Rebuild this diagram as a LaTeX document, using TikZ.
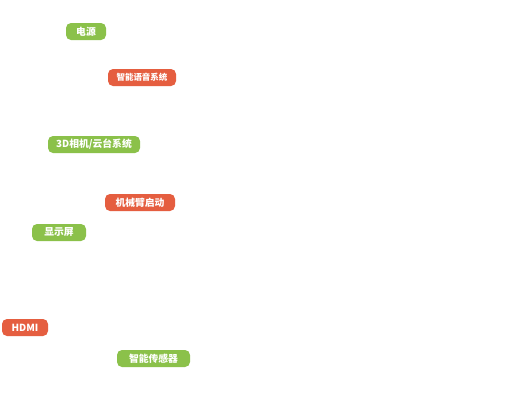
\documentclass[tikz,border=0pt]{standalone}
\usepackage{fontspec}
\newfontfamily\cjk{Noto Sans CJK SC}
\usepackage{tikz}
\usetikzlibrary{positioning}
\definecolor{taggreen}{RGB}{139,193,74}
\definecolor{tagred}{RGB}{229,94,64}
\tikzset{
  tag/.style={rectangle, rounded corners=5pt, minimum height=17pt,
    inner sep=0pt, text=white, font=\cjk\bfseries\fontsize{9.8}{11}\selectfont},
  greentag/.style={tag, fill=taggreen},
  redtag/.style={tag, fill=tagred}
}
\begin{document}
\begin{tikzpicture}[x=1pt, y=-1pt]
  % canvas
  \fill[white] (0,0) rectangle (515,402);
  \useasboundingbox (0,0) rectangle (515,402);

  % labels
  \node[greentag, minimum width=40pt] (power) at (86,31.5) {电源};
  \node[redtag, minimum width=68pt, font=\cjk\bfseries\fontsize{8.5}{10}\selectfont] (voice) at (142,77.5) {智能语音系统};
  \node[greentag, minimum width=92pt] (camera) at (94,144.5) {3D相机/云台系统};
  \node[redtag, minimum width=70pt] (arm) at (140,202.5) {机械臂启动};
  \node[greentag, minimum width=54pt] (display) at (59,232.5) {显示屏};
  \node[redtag, minimum width=46pt] (hdmi) at (25,327.5) {HDMI};
  \node[greentag, minimum width=73pt] (sensor) at (153.5,358.5) {智能传感器};
\end{tikzpicture}
\end{document}
